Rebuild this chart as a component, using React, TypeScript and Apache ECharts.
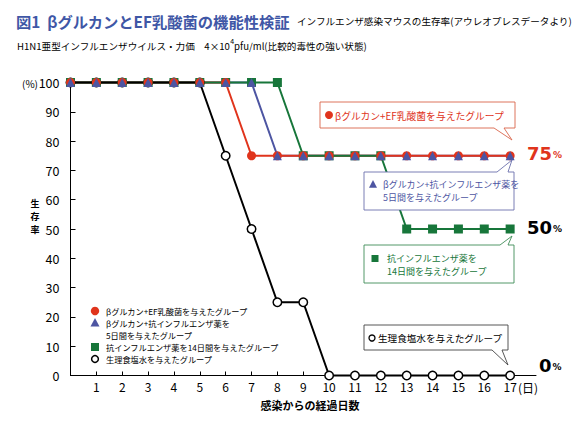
import React, { useEffect, useRef } from "react";
import * as echarts from "echarts";

// survival rate (%) per day after infection
const days = [0, 1, 2, 3, 4, 5, 6, 7, 8, 9, 10, 11, 12, 13, 14, 15, 16, 17];
const dayTicks = [1, 2, 3, 4, 5, 6, 7, 8, 9, 10, 11, 12, 13, 14, 15, 16, 17];
const efGroup = [100, 100, 100, 100, 100, 100, 100, 75, 75, 75, 75, 75, 75, 75, 75, 75, 75, 75];
const antiFlu5Group = [100, 100, 100, 100, 100, 100, 100, 100, 75, 75, 75, 75, 75, 75, 75, 75, 75, 75];
const antiFlu14Group = [100, 100, 100, 100, 100, 100, 100, 100, 100, 75, 75, 75, 75, 50, 50, 50, 50, 50];
const salineGroup = [100, 100, 100, 100, 100, 100, 75, 50, 25, 25, 0, 0, 0, 0, 0, 0, 0, 0];
const groupNames = [
  "βグルカン+EF乳酸菌を与えたグループ",
  "βグルカン+抗インフルエンザ薬を5日間を与えたグループ",
  "抗インフルエンザ薬を14日間を与えたグループ",
  "生理食塩水を与えたグループ",
];
const legendLines = [
  ["βグルカン+EF乳酸菌を与えたグループ"],
  ["βグルカン+抗インフルエンザ薬を", "5日間を与えたグループ"],
  ["抗インフルエンザ薬を14日間を与えたグループ"],
  ["生理食塩水を与えたグループ"],
];
const calloutLines = [
  ["βグルカン+EF乳酸菌を与えたグループ"],
  ["βグルカン+抗インフルエンザ薬を", "5日間を与えたグループ"],
  ["抗インフルエンザ薬を", "14日間を与えたグループ"],
  ["生理食塩水を与えたグループ"],
];
const finalRates = ["75", "50", "0"];

const FONT = "'Noto Sans CJK JP', 'Noto Sans', sans-serif";
const NUM_FONT = "'DejaVu Sans', sans-serif";
const RED = "#e0341c";
const BLUE = "#4d55a2";
const GREEN = "#17763a";
const BLACK = "#000";

const toPoints = (values: number[]) => days.map((d, i) => [d, values[i]]);

const lineSeries = (name: string, values: number[], color: string, z: number) => ({
  type: "line",
  name,
  data: toPoints(values),
  symbol: "none",
  clip: false,
  lineStyle: { color, width: 2 },
  z,
});

const markerSeries = (name: string, values: number[], symbol: string, size: number, itemStyle: any, z: number) => ({
  type: "scatter",
  name,
  data: toPoints(values),
  symbol,
  symbolSize: size,
  clip: false,
  itemStyle: { opacity: 1, ...itemStyle },
  z,
});

const txt = (x: number, y: number, text: string, extra: any = {}) => ({
  type: "text",
  x,
  y,
  z: 100,
  style: {
    text,
    fontFamily: FONT,
    fontSize: 9.5,
    fill: BLACK,
    align: "left",
    verticalAlign: "middle",
    ...extra,
  },
});

const callout = (points: number[][], stroke: string) => ({
  type: "polygon",
  z: 90,
  shape: { points },
  style: { fill: "#fff", stroke, lineWidth: 0.9 },
});

const triangle = (cx: number, cy: number, s: number, color: string) => ({
  type: "polygon",
  z: 100,
  shape: { points: [[cx, cy - s * 0.55], [cx + s / 2, cy + s * 0.4], [cx - s / 2, cy + s * 0.4]] },
  style: { fill: color },
});

const rate = (x: number, y: number, value: string, color: string) =>
  txt(x, y, `{n|${value}}{p|%}`, {
    fill: color,
    rich: {
      n: { fontSize: 18, fontWeight: "bold", fontFamily: NUM_FONT, fill: color },
      p: { fontSize: 9, fontWeight: "bold", fontFamily: NUM_FONT, fill: color, padding: [4, 0, 0, 1] },
    },
  });

const App: React.FC = () => {
  const chartRef = useRef<HTMLDivElement>(null);

  useEffect(() => {
    if (!chartRef.current) return;
    const chart = echarts.init(chartRef.current, undefined, { renderer: "svg" });

    const option = {
      animation: false,
      grid: { left: 70.5, right: 43, top: 82.5, bottom: 51.5 },
      xAxis: {
        type: "value",
        min: 0,
        max: 18,
        interval: 1,
        splitLine: { show: false },
        axisLine: { lineStyle: { color: BLACK, width: 1 } },
        axisTick: { inside: true, length: 4, customValues: dayTicks, lineStyle: { color: BLACK } },
        axisLabel: {
          customValues: dayTicks,
          color: BLACK,
          fontSize: 12,
          fontFamily: FONT,
          margin: 5,
        },
      },
      yAxis: {
        type: "value",
        min: 0,
        max: 100,
        interval: 10,
        splitLine: { show: false },
        axisLine: { show: true, lineStyle: { color: BLACK, width: 1 } },
        axisTick: { inside: true, length: 5, lineStyle: { color: BLACK } },
        axisLabel: { color: BLACK, fontSize: 12.5, fontFamily: FONT, margin: 11 },
      },
      series: [
        lineSeries(groupNames[1], antiFlu5Group, BLUE, 2),
        lineSeries(groupNames[0], efGroup, RED, 3),
        lineSeries(groupNames[2], antiFlu14Group, GREEN, 4),
        lineSeries(groupNames[3], salineGroup, BLACK, 5),
        markerSeries(groupNames[3], salineGroup, "circle", 8.5, { color: "#fff", borderColor: BLACK, borderWidth: 1.5 }, 6),
        markerSeries(groupNames[2], antiFlu14Group, "rect", 9, { color: GREEN }, 7),
        markerSeries(groupNames[0], efGroup, "circle", 9, { color: RED }, 8),
        markerSeries(groupNames[1], antiFlu5Group, "triangle", 9, { color: BLUE }, 9),
      ],
      graphic: [
        // titles
        txt(16, 21, "図1  βグルカンとEF乳酸菌の機能性検証", { fontSize: 15.3, fontWeight: "bold", fill: "#3f57a6" }),
        txt(297, 21, "インフルエンザ感染マウスの生存率(アウレオプレスデータより)", { fontSize: 9.6 }),
        txt(17, 46, "{m|H1N1亜型インフルエンザウイルス・力価　4×10}{sup|4}{m|pfu/ml(比較的毒性の強い状態)}", {
          fontSize: 9.6,
          rich: {
            m: { fontSize: 9.6, lineHeight: 18, fontFamily: FONT },
            sup: { fontSize: 7, lineHeight: 8, verticalAlign: "top", fontFamily: FONT },
          },
        }),
        // axis names
        txt(38, 83, "(%)", { fontSize: 10, align: "right" }),
        txt(35, 203, "生", { fontSize: 9, fontWeight: "bold", align: "center" }),
        txt(35, 216.2, "存", { fontSize: 9, fontWeight: "bold", align: "center" }),
        txt(35, 229.4, "率", { fontSize: 9, fontWeight: "bold", align: "center" }),
        txt(310, 404.5, "感染からの経過日数", { fontSize: 11, fontWeight: "bold", align: "center" }),
        txt(518, 387, "(日)", { fontSize: 12 }),
        // legend
        { type: "circle", z: 100, shape: { cx: 95, cy: 311, r: 4.2 }, style: { fill: RED } },
        txt(106, 311, legendLines[0][0], { fontSize: 8.2 }),
        triangle(95, 323, 9, BLUE),
        txt(106, 323, legendLines[1][0], { fontSize: 8.2 }),
        txt(106, 335, legendLines[1][1], { fontSize: 8.2 }),
        { type: "rect", z: 100, shape: { x: 91, y: 343, width: 8, height: 8 }, style: { fill: GREEN } },
        txt(106, 347, legendLines[2][0], { fontSize: 8.2 }),
        { type: "circle", z: 100, shape: { cx: 95, cy: 359, r: 3.4 }, style: { fill: "#fff", stroke: BLACK, lineWidth: 1.5 } },
        txt(106, 359, legendLines[3][0], { fontSize: 8.2 }),
        // callouts
        callout([[320, 102], [515, 102], [515, 128], [504, 128], [512, 140], [494, 128], [320, 128]], "#d9644b"),
        { type: "circle", z: 100, shape: { cx: 329, cy: 115, r: 4 }, style: { fill: RED } },
        txt(335, 115.5, calloutLines[0][0], { fontSize: 9.8, fill: RED }),
        callout([[364, 172], [497, 172], [512, 160], [508, 172], [514, 172], [514, 210], [364, 210]], "#6b70ad"),
        triangle(373, 184.5, 8, BLUE),
        txt(383, 184.5, calloutLines[1][0], { fontSize: 9, fill: BLUE }),
        txt(383, 197.6, calloutLines[1][1], { fontSize: 9, fill: BLUE }),
        callout([[364, 245], [500, 245], [512, 236], [508, 245], [514, 245], [514, 283], [364, 283]], "#3f8c57"),
        { type: "rect", z: 100, shape: { x: 371.5, y: 255, width: 7, height: 7 }, style: { fill: GREEN } },
        txt(387, 258.5, calloutLines[2][0], { fontSize: 9, fill: GREEN }),
        txt(387, 271.6, calloutLines[2][1], { fontSize: 9, fill: GREEN }),
        callout([[364, 325], [508, 325], [508, 350], [502, 350], [508, 365], [492, 350], [364, 350]], "#444"),
        { type: "circle", z: 100, shape: { cx: 372, cy: 338, r: 3 }, style: { fill: "#fff", stroke: BLACK, lineWidth: 1.3 } },
        txt(378, 338, calloutLines[3][0], { fontSize: 9.6 }),
        // final rates
        rate(527, 153, finalRates[0], RED),
        rate(527, 227, finalRates[1], BLACK),
        rate(539, 365, finalRates[2], BLACK),
      ],
    };

    chart.setOption(option);
    return () => {
      chart.dispose();
    };
  }, []);

  return (
    <div
      ref={chartRef}
      style={{ position: "absolute", left: 0, top: 0, width: 579, height: 427, background: "#fff" }}
    />
  );
};

export default App;
